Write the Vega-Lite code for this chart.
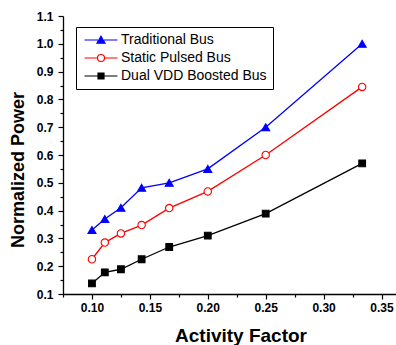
{
  "$schema": "https://vega.github.io/schema/vega-lite/v6.json",
  "width": 333,
  "height": 278,
  "autosize": {"type": "none"},
  "padding": {"left": 63, "top": 16, "right": 0, "bottom": 51},
  "background": "white",
  "config": {
    "view": {"stroke": null},
    "font": "Liberation Sans",
    "axis": {
      "domainColor": "black",
      "domainWidth": 1.3,
      "tickColor": "black",
      "tickWidth": 1.2,
      "labelFont": "Liberation Sans",
      "labelFontWeight": "bold",
      "labelFontSize": 12,
      "labelColor": "black",
      "titleFont": "Liberation Sans",
      "titleFontWeight": "bold",
      "titleColor": "black",
      "grid": false,
      "labelOverlap": false,
      "labelFlush": false
    }
  },
  "data": {
    "values": [
      {"af": 0.1, "p": 0.33, "s": "Traditional Bus"},
      {"af": 0.1111, "p": 0.37, "s": "Traditional Bus"},
      {"af": 0.125, "p": 0.41, "s": "Traditional Bus"},
      {"af": 0.1429, "p": 0.482, "s": "Traditional Bus"},
      {"af": 0.1667, "p": 0.5, "s": "Traditional Bus"},
      {"af": 0.2, "p": 0.55, "s": "Traditional Bus"},
      {"af": 0.25, "p": 0.7, "s": "Traditional Bus"},
      {"af": 0.3333, "p": 1.0, "s": "Traditional Bus"},
      {"af": 0.1, "p": 0.225, "s": "Static Pulsed Bus"},
      {"af": 0.1111, "p": 0.285, "s": "Static Pulsed Bus"},
      {"af": 0.125, "p": 0.318, "s": "Static Pulsed Bus"},
      {"af": 0.1429, "p": 0.348, "s": "Static Pulsed Bus"},
      {"af": 0.1667, "p": 0.409, "s": "Static Pulsed Bus"},
      {"af": 0.2, "p": 0.469, "s": "Static Pulsed Bus"},
      {"af": 0.25, "p": 0.6, "s": "Static Pulsed Bus"},
      {"af": 0.3333, "p": 0.845, "s": "Static Pulsed Bus"},
      {"af": 0.1, "p": 0.138, "s": "Dual VDD Boosted Bus"},
      {"af": 0.1111, "p": 0.178, "s": "Dual VDD Boosted Bus"},
      {"af": 0.125, "p": 0.189, "s": "Dual VDD Boosted Bus"},
      {"af": 0.1429, "p": 0.225, "s": "Dual VDD Boosted Bus"},
      {"af": 0.1667, "p": 0.269, "s": "Dual VDD Boosted Bus"},
      {"af": 0.2, "p": 0.31, "s": "Dual VDD Boosted Bus"},
      {"af": 0.25, "p": 0.389, "s": "Dual VDD Boosted Bus"},
      {"af": 0.3333, "p": 0.57, "s": "Dual VDD Boosted Bus"}
    ]
  },
  "encoding": {
    "x": {
      "field": "af", "type": "quantitative",
      "scale": {"domain": [0.075, 0.3625], "nice": false, "zero": false},
      "axis": {
        "title": "Activity Factor",
        "titleFontSize": 19,
        "titleX": 177.5,
        "titleY": 47,
        "titleBaseline": "alphabetic",
        "values": [0.075, 0.1, 0.125, 0.15, 0.175, 0.2, 0.225, 0.25, 0.275, 0.3, 0.325, 0.35],
        "labelExpr": "round(datum.value*1000) % 50 === 0 ? format(datum.value, '.2f') : ''",
        "tickSize": {"condition": {"test": "round(datum.value*1000) % 50 === 0", "value": 5}, "value": 3},
        "labelPadding": 3
      }
    },
    "y": {
      "field": "p", "type": "quantitative",
      "scale": {"domain": [0.1, 1.1], "nice": false, "zero": false},
      "axis": {
        "title": "Normalized Power",
        "titleFontSize": 18,
        "titleX": -40,
        "titleY": 153.5,
        "titleBaseline": "alphabetic",
        "values": [0.1, 0.15, 0.2, 0.25, 0.3, 0.35, 0.4, 0.45, 0.5, 0.55, 0.6, 0.65, 0.7, 0.75, 0.8, 0.85, 0.9, 0.95, 1.0, 1.05, 1.1],
        "labelExpr": "round(datum.value*100) % 10 === 0 ? format(datum.value, '.1f') : ''",
        "tickSize": {"condition": {"test": "round(datum.value*100) % 10 === 0", "value": 5}, "value": 3},
        "labelPadding": 5
      }
    }
  },
  "resolve": {"scale": {"shape": "independent", "fill": "independent", "stroke": "independent", "size": "independent"}, "legend": {"shape": "independent", "fill": "independent", "stroke": "independent"}},
  "layer": [
    {
      "mark": {"type": "line", "strokeWidth": 1.3},
      "encoding": {
        "color": {
          "field": "s", "type": "nominal",
          "scale": {"domain": ["Traditional Bus", "Static Pulsed Bus", "Dual VDD Boosted Bus"], "range": ["#0000ff", "#ff0000", "#000000"]},
          "legend": null
        }
      }
    },
    {
      "mark": {"type": "point", "strokeWidth": 1.1, "opacity": 1},
      "encoding": {
        "shape": {
          "field": "s", "type": "nominal",
          "scale": {"domain": ["Traditional Bus", "Static Pulsed Bus", "Dual VDD Boosted Bus"], "range": ["triangle-up", "circle", "square"]},
          "legend": null
        },
        "stroke": {
          "field": "s", "type": "nominal",
          "scale": {"domain": ["Traditional Bus", "Static Pulsed Bus", "Dual VDD Boosted Bus"], "range": ["#0000ff", "#ff0000", "#000000"]},
          "legend": null
        },
        "fill": {
          "field": "s", "type": "nominal",
          "scale": {"domain": ["Traditional Bus", "Static Pulsed Bus", "Dual VDD Boosted Bus"], "range": ["#0000ff", "#ffffff", "#000000"]},
          "legend": null
        },
        "size": {
          "field": "s", "type": "nominal",
          "scale": {"domain": ["Traditional Bus", "Static Pulsed Bus", "Dual VDD Boosted Bus"], "range": [64, 45, 40]},
          "legend": null
        }
      }
    },
    {
      "mark": {"type": "point", "strokeWidth": 1.2, "opacity": 0},
      "encoding": {
        "shape": {
          "field": "s", "type": "nominal",
          "scale": {"domain": ["Traditional Bus", "Static Pulsed Bus", "Dual VDD Boosted Bus"], "range": [
            "M-3.3,0H-0.6M0.6,0H3.3M0,-0.75L0.8,0.65L-0.8,0.65Z",
            "M-3.3,0H-0.7M0.7,0H3.3M0.7,0A0.7,0.7 0 1,1 -0.7,0A0.7,0.7 0 1,1 0.7,0Z",
            "M-3.3,0H-0.6M0.6,0H3.3M-0.6,-0.6H0.6V0.6H-0.6Z"
          ]},
          "legend": {
            "title": null,
            "orient": "none",
            "legendX": 13,
            "legendY": 11,
            "strokeColor": "black",
            "fillColor": "white",
            "padding": 6,
            "rowPadding": 4,
            "symbolSize": 100,
            "symbolStrokeWidth": 1.2,
            "symbolOpacity": 1,
            "symbolOffset": 12,
            "labelOffset": 13,
            "labelFont": "Liberation Sans",
            "labelFontSize": 14,
            "labelColor": "black",
            "labelLimit": 300
          }
        },
        "stroke": {
          "field": "s", "type": "nominal",
          "scale": {"domain": ["Traditional Bus", "Static Pulsed Bus", "Dual VDD Boosted Bus"], "range": ["#0000ff", "#ff0000", "#000000"]},
          "legend": {"title": null}
        },
        "fill": {
          "field": "s", "type": "nominal",
          "scale": {"domain": ["Traditional Bus", "Static Pulsed Bus", "Dual VDD Boosted Bus"], "range": ["#0000ff", "#ffffff", "#000000"]},
          "legend": {"title": null}
        }
      }
    }
  ]
}
